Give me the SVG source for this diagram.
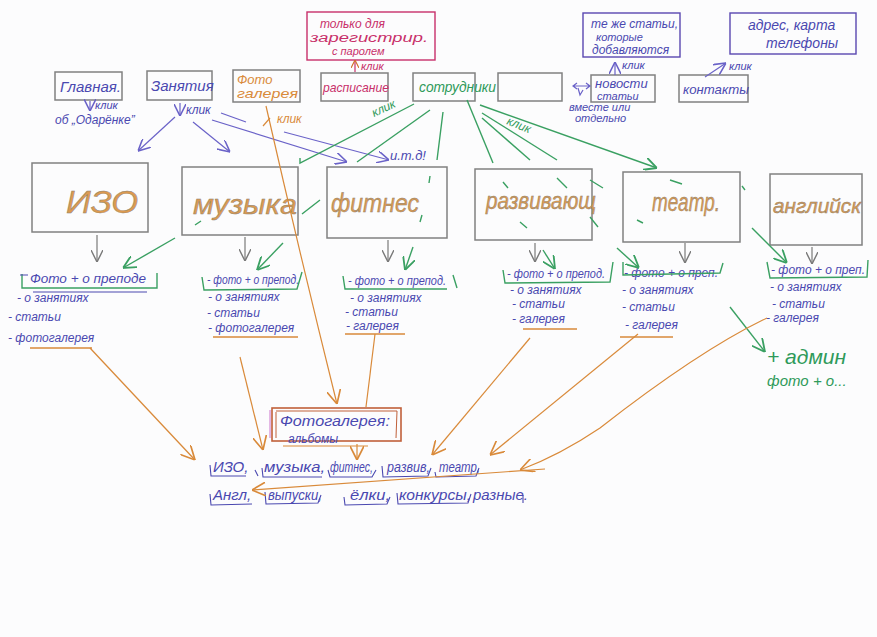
<svg xmlns="http://www.w3.org/2000/svg" width="877" height="637" viewBox="0 0 877 637">
<defs>
<style>
text{font-family:"Liberation Sans","DejaVu Sans",sans-serif;font-style:italic}
.box{fill:none;stroke:#808080;stroke-width:1.5}
.bl{fill:#4a48b0}
.gr{fill:#2f9a5a}
.or{fill:#d98a3a}
.mg{fill:#c8306a}
.cat{fill:#dc9a50;stroke:#8a8070;stroke-width:0.45}
.ls{fill:#4a48b0;font-size:12px}
.cg{stroke:#3aa062;fill:none;stroke-width:1.4}
.co{stroke:#d98a3a;fill:none;stroke-width:1.2}
.cb{stroke:#6a62c8;fill:none;stroke-width:1.2}
.cy{stroke:#7a7a7a;fill:none;stroke-width:1.2}
.cm{stroke:#c8306a;fill:none;stroke-width:1.2}
.ub{stroke:#4a48b0;fill:none;stroke-width:1.1}
.uo{stroke:#d98a3a;fill:none;stroke-width:1.3}
</style>
<marker id="ag" viewBox="0 0 10 10" refX="10" refY="5" markerWidth="13" markerHeight="13" markerUnits="userSpaceOnUse" orient="auto"><path d="M0,0 L10,5 L0,10" fill="none" stroke="#3aa062" stroke-width="1.4"/></marker>
<marker id="ao" viewBox="0 0 10 10" refX="10" refY="5" markerWidth="14" markerHeight="14" markerUnits="userSpaceOnUse" orient="auto"><path d="M0,0 L10,5 L0,10" fill="none" stroke="#d98a3a" stroke-width="1.2"/></marker>
<marker id="ab" viewBox="0 0 10 10" refX="10" refY="5" markerWidth="12" markerHeight="12" markerUnits="userSpaceOnUse" orient="auto"><path d="M0,0 L10,5 L0,10" fill="none" stroke="#6a62c8" stroke-width="1.3"/></marker>
<marker id="ay" viewBox="0 0 10 10" refX="10" refY="5" markerWidth="12" markerHeight="12" markerUnits="userSpaceOnUse" orient="auto"><path d="M0,0 L10,5 L0,10" fill="none" stroke="#7a7a7a" stroke-width="1.2"/></marker>
<marker id="am" viewBox="0 0 10 10" refX="10" refY="5" markerWidth="8" markerHeight="8" markerUnits="userSpaceOnUse" orient="auto"><path d="M0,0 L10,5 L0,10" fill="none" stroke="#d0702a" stroke-width="1.4"/></marker>
</defs>
<rect x="0" y="0" width="877" height="637" fill="#fcfcfd"/>

<!-- top info boxes -->
<g id="reg-only">
<rect x="307" y="12" width="128" height="48" fill="none" stroke="#c8306a" stroke-width="1.4"/>
<text class="mg" x="320" y="28" font-size="12">только для</text>
<text class="mg" x="310" y="42" font-size="12" textLength="118" lengthAdjust="spacingAndGlyphs">зарегистрир.</text>
<text class="mg" x="332" y="55" font-size="11">с паролем</text>
</g>
<g id="same-articles">
<rect x="583" y="13" width="97" height="44" fill="none" stroke="#5a48b0" stroke-width="1.4"/>
<text class="bl" x="591" y="28" font-size="12">те же статьи,</text>
<text class="bl" x="596" y="41" font-size="11">которые</text>
<text class="bl" x="592" y="54" font-size="12">добавляются</text>
</g>
<g id="address">
<rect x="730" y="13" width="126" height="41" fill="none" stroke="#5a48b0" stroke-width="1.4"/>
<text class="bl" x="748" y="30" font-size="14">адрес, карта</text>
<text class="bl" x="766" y="48" font-size="14">телефоны</text>
</g>

<!-- navigation -->
<g id="nav-main">
<rect class="box" x="55" y="72" width="67" height="28"/>
<text class="bl" x="60" y="92" font-size="15">Главная.</text>
</g>
<g id="nav-classes">
<rect class="box" x="147" y="71" width="65" height="29"/>
<text class="bl" x="151" y="91" font-size="15">Занятия</text>
</g>
<g id="nav-photo">
<rect class="box" x="233" y="70" width="67" height="32"/>
<text class="or" x="237" y="84" font-size="13">Фото</text>
<text class="or" x="237" y="98" font-size="13" textLength="61" lengthAdjust="spacingAndGlyphs">галерея</text>
</g>
<g id="nav-schedule">
<rect class="box" x="321" y="73" width="67" height="28"/>
<text class="mg" x="323" y="92" font-size="13" textLength="66" lengthAdjust="spacingAndGlyphs">расписание</text>
</g>
<g id="nav-staff">
<rect class="box" x="413" y="73" width="62" height="28"/>
<text class="gr" x="419" y="92" font-size="14" textLength="77" lengthAdjust="spacingAndGlyphs">сотрудники</text>
</g>
<g id="nav-empty">
<rect class="box" x="498" y="73" width="64" height="28"/>
</g>
<g id="nav-news">
<rect class="box" x="591" y="75" width="64" height="27"/>
<text class="bl" x="595" y="88" font-size="13">новости</text>
<text class="bl" x="597" y="100" font-size="11">статьи</text>
</g>
<g id="nav-contacts">
<rect class="box" x="679" y="75" width="69" height="27"/>
<text class="bl" x="683" y="94" font-size="13" textLength="66" lengthAdjust="spacingAndGlyphs">контакты</text>
</g>

<!-- small labels -->
<g id="labels">
<text class="bl" x="95" y="109" font-size="11">клик</text>
<text class="bl" x="55" y="124" font-size="12">об „Одарёнке”</text>
<text class="bl" x="186" y="114" font-size="12">клик</text>
<text class="or" x="277" y="123" font-size="12">клик</text>
<text class="mg" x="361" y="70" font-size="11">клик</text>
<text class="bl" x="622" y="69" font-size="11">клик</text>
<text class="bl" x="729" y="70" font-size="11">клик</text>
<text class="gr" x="0" y="0" font-size="12" transform="translate(374,117) rotate(-25)">клик</text>
<text class="gr" x="0" y="0" font-size="12" transform="translate(506,124) rotate(22)">клик</text>
<text class="bl" x="390" y="160" font-size="13">и.т.д!</text>
<text class="bl" x="569" y="111" font-size="11">вместе или</text>
<text class="bl" x="575" y="122" font-size="11">отдельно</text>
</g>

<!-- category boxes -->
<g id="cat-izo">
<rect class="box" x="32" y="163" width="116" height="69"/>
<text class="cat" x="66" y="213" font-size="32" textLength="72" lengthAdjust="spacingAndGlyphs">ИЗО</text>
</g>
<g id="cat-music">
<rect class="box" x="182" y="167" width="116" height="68"/>
<text class="cat" x="193" y="214" font-size="28" textLength="104" lengthAdjust="spacingAndGlyphs">музыка</text>
</g>
<g id="cat-fitness">
<rect class="box" x="327" y="167" width="120" height="71"/>
<text class="cat" x="331" y="212" font-size="26" textLength="88" lengthAdjust="spacingAndGlyphs">фитнес</text>
</g>
<g id="cat-dev">
<rect class="box" x="475" y="169" width="117" height="71"/>
<text class="cat" x="486" y="209" font-size="23" textLength="110" lengthAdjust="spacingAndGlyphs">развивающ</text>
</g>
<g id="cat-theatre">
<rect class="box" x="623" y="172" width="117" height="70"/>
<text class="cat" x="652" y="211" font-size="25" textLength="68" lengthAdjust="spacingAndGlyphs">театр.</text>
</g>
<g id="cat-english">
<rect class="box" x="770" y="174" width="92" height="71"/>
<text class="cat" x="773" y="213" font-size="21" textLength="88" lengthAdjust="spacingAndGlyphs">английск</text>
</g>

<!-- sub lists -->
<g id="list-izo">
<text class="ls" x="30" y="283" font-size="14" textLength="116" lengthAdjust="spacingAndGlyphs">Фото + о преподе</text>
<path class="cg" d="M22,274 L22,288 L157,288 L157,273"/>
<path class="ub" d="M33,292 L147,292 M20,275 L28,275"/>
<text class="ls" x="17" y="302">- о занятиях</text>
<text class="ls" x="8" y="321">- статьи</text>
<text class="ls" x="8" y="342">- фотогалерея</text>
<path class="uo" d="M30,348 L92,348"/>
</g>
<g id="list-music">
<text class="ls" x="207" y="284" textLength="92" lengthAdjust="spacingAndGlyphs">- фото + о препод.</text>
<path class="cg" d="M202,277 L204,290 L297,289 L302,272"/>
<text class="ls" x="208" y="301">- о занятиях</text>
<text class="ls" x="207" y="317">- статьи</text>
<text class="ls" x="208" y="332">- фотогалерея</text>
<path class="uo" d="M213,337 L298,337"/>
</g>
<g id="list-fitness">
<text class="ls" x="348" y="285" textLength="98" lengthAdjust="spacingAndGlyphs">- фото + о препод.</text>
<path class="cg" d="M343,276 L345,289 L447,289 M453,275 L457,288"/>
<text class="ls" x="350" y="302">- о занятиях</text>
<text class="ls" x="345" y="316">- статьи</text>
<text class="ls" x="346" y="330">- галерея</text>
<path class="uo" d="M345,334 L405,334"/>
</g>
<g id="list-dev">
<text class="ls" x="507" y="278" textLength="98" lengthAdjust="spacingAndGlyphs">- фото + о препод.</text>
<path class="cg" d="M503,270 L505,283 L610,282 L613,262"/>
<text class="ls" x="510" y="294">- о занятиях</text>
<text class="ls" x="512" y="308">- статьи</text>
<text class="ls" x="512" y="323">- галерея</text>
<path class="uo" d="M523,329 L577,329"/>
</g>
<g id="list-theatre">
<text class="ls" x="624" y="277" textLength="94" lengthAdjust="spacingAndGlyphs">- фото + о преп.</text>
<path class="cg" d="M623,262 L623,275 L720,273 L723,263"/>
<text class="ls" x="622" y="294">- о занятиях</text>
<text class="ls" x="622" y="311">- статьи</text>
<text class="ls" x="625" y="329">- галерея</text>
<path class="uo" d="M620,337 L673,337"/>
</g>
<g id="list-english">
<text class="ls" x="771" y="274" textLength="94" lengthAdjust="spacingAndGlyphs">- фото + о преп.</text>
<path class="cg" d="M767,262 L770,278 L867,277 L868,260"/>
<text class="ls" x="770" y="291">- о занятиях</text>
<text class="ls" x="772" y="308">- статьи</text>
<text class="ls" x="766" y="322">- галерея</text>
</g>
<g id="admin-note">
<text class="gr" x="767" y="364" font-size="21">+ админ</text>
<text class="gr" x="767" y="386" font-size="15">фото + о...</text>
</g>

<!-- gallery -->
<g id="gallery">
<rect x="272" y="408" width="129" height="33" fill="none" stroke="#c0603a" stroke-width="1.6"/>
<path d="M276,411 L397,411 L396,438 M276,412 L276,438" fill="none" stroke="#c0603a" stroke-width="1"/>
<path d="M270,410 L270,438" fill="none" stroke="#c050c0" stroke-width="0.8"/>
<text class="bl" x="280" y="426" font-size="15" textLength="110" lengthAdjust="spacingAndGlyphs">Фотогалерея:</text>
<text class="bl" x="288" y="443" font-size="12">альбомы</text>
</g>

<!-- bottom categories -->
<g id="gallery-albums">
<text class="bl" x="213" y="472" font-size="15">ИЗО,</text>
<text class="bl" x="264" y="472" font-size="15" textLength="61" lengthAdjust="spacingAndGlyphs">музыка,</text>
<text class="bl" x="330" y="472" font-size="14" textLength="43" lengthAdjust="spacingAndGlyphs">фитнес,</text>
<text class="bl" x="387" y="472" font-size="14" textLength="43" lengthAdjust="spacingAndGlyphs">развив,</text>
<text class="bl" x="439" y="472" font-size="15" textLength="41" lengthAdjust="spacingAndGlyphs">театр,</text>
<path class="ub" d="M210,465 L211,476 L246,476 M255,470 L258,476 M262,468 L263,477 L322,477 M328,470 L330,477 L372,477 L376,470 M382,466 L383,477 L428,476 L431,468 M435,472 L436,477 L476,476 L479,468"/>
<text class="bl" x="213" y="500" font-size="15">Англ,</text>
<text class="bl" x="268" y="500" font-size="15" textLength="54" lengthAdjust="spacingAndGlyphs">выпуски,</text>
<text class="bl" x="350" y="500" font-size="15" textLength="40" lengthAdjust="spacingAndGlyphs">ёлки,</text>
<text class="bl" x="399" y="500" font-size="15" textLength="72" lengthAdjust="spacingAndGlyphs">конкурсы,</text>
<text class="bl" x="473" y="500" font-size="15" textLength="55" lengthAdjust="spacingAndGlyphs">разные.</text>
<path class="ub" d="M210,494 L211,505 L252,504 M265,492 L266,504 L318,503 L321,495 M344,497 L345,505 L387,504 L390,497 M397,493 L398,504 L468,503 L471,494 M523,495 L523,503"/>
</g>

<!-- connectors -->
<g id="connectors">
<!-- nav small arrows -->
<path class="cb" d="M90,101 L90,111" marker-end="url(#ab)"/>
<path class="cb" d="M180,103 L180,116" marker-end="url(#ab)"/>
<path class="cm" d="M355,72 L355,60" marker-end="url(#am)"/>
<path class="cb" d="M615,75 L615,62" marker-end="url(#ab)"/>
<path class="cb" d="M705,77 L726,63" marker-end="url(#ab)"/>
<path class="cb" d="M573,86 L590,86 M577,83 L573,86 L577,89 M586,83 L590,86 L586,89"/>
<path class="cb" d="M578,88 L580,95 L583,90"/>
<path class="co" d="M263,126 L270,118"/>

<!-- blue from Занятия -->
<path class="cb" d="M175,117 L138,151" marker-end="url(#ab)"/>
<path class="cb" d="M193,122 L230,152" marker-end="url(#ab)"/>
<path class="cb" d="M221,113 L246,122"/>
<path class="cb" d="M212,120 L347,162" marker-end="url(#ab)"/>
<path class="cb" d="M284,132 L389,160" marker-end="url(#ab)"/>

<!-- green from сотрудники -->
<path class="cg" d="M414,104 L300,163 L300,158"/>
<path class="cg" d="M430,110 L357,162"/>
<path class="cg" d="M443,112 L437,160"/>
<path class="cg" d="M467,100 L493,163"/>
<path class="cg" d="M482,113 L557,160"/>
<path class="cg" d="M482,118 L530,160"/>
<path class="cg" d="M480,105 L657,168" marker-end="url(#ag)"/>
<path class="cg" d="M430,176 L429,183 M422,215 L420,222 M302,214 L320,200 M195,225 L201,221 M503,182 L508,188 M520,222 L527,228 M557,178 L567,188 M590,180 L603,188 M590,217 L598,227 M670,180 L682,184 M637,220 L643,223 M742,186 L745,190"/>

<!-- green to lists -->
<path class="cg" d="M175,238 L123,268" marker-end="url(#ag)"/>
<path class="cg" d="M283,243 L257,270" marker-end="url(#ag)"/>
<path class="cg" d="M413,247 L405,270" marker-end="url(#ag)"/>
<path class="cg" d="M543,250 L555,269" marker-end="url(#ag)"/>
<path class="cg" d="M617,248 L639,268" marker-end="url(#ag)"/>
<path class="cg" d="M752,228 L787,263" marker-end="url(#ag)"/>
<path class="cg" d="M730,307 L765,352" marker-end="url(#ag)"/>

<!-- gray box to list -->
<path class="cy" d="M97,235 L97,262" marker-end="url(#ay)"/>
<path class="cy" d="M245,237 L245,261" marker-end="url(#ay)"/>
<path class="cy" d="M388,240 L388,262" marker-end="url(#ay)"/>
<path class="cy" d="M535,243 L535,262" marker-end="url(#ay)"/>
<path class="cy" d="M685,243 L685,263" marker-end="url(#ay)"/>
<path class="cy" d="M812,247 L812,264" marker-end="url(#ay)"/>

<!-- orange to gallery -->
<path class="co" d="M266,106 Q300,255 337,404" marker-end="url(#ao)"/>
<path class="co" d="M90,348 L195,460" marker-end="url(#ao)"/>
<path class="co" d="M240,357 L263,450" marker-end="url(#ao)"/>
<path class="co" d="M375,334 L366,407"/>
<path class="co" d="M530,338 L432,455" marker-end="url(#ao)"/>
<path class="co" d="M638,334 L490,455" marker-end="url(#ao)"/>
<path class="co" d="M767,318 Q700,350 600,428 Q560,455 520,470" marker-end="url(#ao)"/>
<path class="co" d="M545,469 L252,490" marker-end="url(#ao)"/>
<path class="co" d="M357,444 L357,460" marker-end="url(#ao)"/>
<path class="co" d="M283,446 L368,446"/>
</g>
</svg>
